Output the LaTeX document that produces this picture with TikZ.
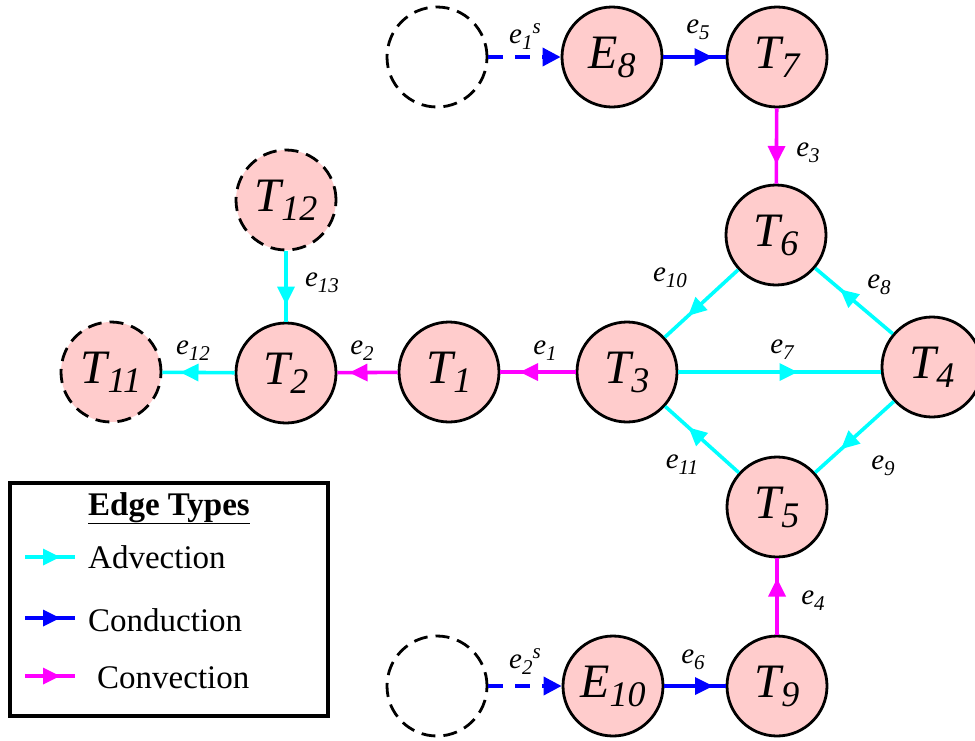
\documentclass[tikz,border=0pt]{standalone}
\usepackage{fontspec}
\setmainfont{Liberation Serif}
\usetikzlibrary{arrows.meta,decorations.markings}
\definecolor{nodepink}{RGB}{255,204,204}
\definecolor{advc}{RGB}{0,255,255}
\definecolor{conc}{RGB}{0,0,255}
\definecolor{cvc}{RGB}{255,0,255}
\newcommand{\ndl}[2]{#1\raisebox{-9pt}{\fontsize{36}{36}\selectfont #2}}
\newcommand{\edl}[2]{#1\raisebox{-6pt}{\fontsize{21}{21}\selectfont #2}}
\tikzset{
  nd/.style={circle, draw=black, line width=2.8pt, fill=nodepink, minimum size=100pt, inner sep=0pt,
    font=\fontsize{48}{50}\selectfont\itshape},
  ghost/.style={circle, draw=black, line width=2.8pt, dash pattern=on 14pt off 8pt, minimum size=100pt, inner sep=0pt},
  ghostnd/.style={nd, dash pattern=on 14pt off 8pt},
  midarrow/.style={line width=3.6pt, postaction={decorate},
    decoration={markings, mark=at position 0.5 with {\fill[solid] (0pt,9pt) -- (18pt,0pt) -- (0pt,-9pt) -- cycle;}}},
  adv/.style={midarrow, color=advc},
  con/.style={midarrow, color=conc},
  cvn/.style={midarrow, color=cvc},
  legarrow/.style={line width=3.6pt, postaction={decorate},
    decoration={markings, mark=at position 0.5 with {\fill[solid] (-7pt,8.5pt) -- (10pt,0pt) -- (-7pt,-8.5pt) -- cycle;}}},
  src/.style={line width=3.6pt, color=conc, dash pattern=on 15pt off 12pt, -{Triangle[length=18pt,width=18pt]}},
  elab/.style={font=\fontsize{29}{30}\selectfont\itshape, inner sep=0pt},
  legtxt/.style={font=\fontsize{33}{35}\selectfont, anchor=west, inner sep=0pt},
}
\begin{document}
\begin{tikzpicture}[x=1pt,y=-1pt]
\useasboundingbox (0,0) rectangle (975,740);
\clip (0,0) rectangle (975,740);

% nodes
\node[ghost] (S1) at (437,57) {};
\node[nd] (E8) at (612,57) {\ndl{E}{8}};
\node[nd] (T7) at (777,57) {\ndl{T}{7}};
\node[nd] (T6) at (776,235) {\ndl{T}{6}};
\node[ghostnd] (T12) at (286,200) {\ndl{T}{12}};
\node[nd] (T2) at (286,373) {\ndl{T}{2}};
\node[ghostnd] (T11) at (111,372) {\ndl{T}{11}};
\node[nd] (T1) at (449,372) {\ndl{T}{1}};
\node[nd] (T3) at (627,372) {\ndl{T}{3}};
\node[nd] (T4) at (932,367) {\ndl{T}{4}};
\node[nd] (T5) at (777,507) {\ndl{T}{5}};
\node[nd] (T9) at (777,686) {\ndl{T}{9}};
\node[nd] (E10) at (613,686) {\ndl{E}{10}};
\node[ghost] (S2) at (437,686) {};

% edges
\draw[src] (S1) -- (E8);
\draw[con] (E8) -- (T7);
\draw[cvn] (T7) -- (T6);
\draw[adv] (T6) -- (T3);
\draw[adv] (T4) -- (T6);
\draw[adv] (T3.east) -- (T3.east -| T4.west);
\draw[adv] (T4) -- (T5);
\draw[adv] (T5) -- (T3);
\draw[cvn] (T9) -- (T5);
\draw[con] (E10) -- (T9);
\draw[src] (S2) -- (E10);
\draw[cvn] (T3) -- (T1);
\draw[cvn] (T1) -- (T2);
\draw[adv] (T2) -- (T11);
\draw[adv] (T12) -- (T2);

% edge labels
\node[elab] (l1s) at (525,37) {\edl{e}{1}\raisebox{10pt}{\fontsize{21}{21}\selectfont s}};
\node[elab] (l5) at (698,30) {\edl{e}{5}};
\node[elab] (l3) at (808,153) {\edl{e}{3}};
\node[elab] (l10) at (670,278) {\edl{e}{10}};
\node[elab] (l8) at (879,285) {\edl{e}{8}};
\node[elab] (l7) at (782,350) {\edl{e}{7}};
\node[elab] (l11) at (682,465) {\edl{e}{11}};
\node[elab] (l9) at (883,466) {\edl{e}{9}};
\node[elab] (l4) at (813,601) {\edl{e}{4}};
\node[elab] (l6) at (693,660) {\edl{e}{6}};
\node[elab] (l2s) at (525,662) {\edl{e}{2}\raisebox{10pt}{\fontsize{21}{21}\selectfont s}};
\node[elab] (l12) at (193,351) {\edl{e}{12}};
\node[elab] (l2) at (362,351) {\edl{e}{2}};
\node[elab] (l13) at (322,283) {\edl{e}{13}};
\node[elab] (l1) at (545,351) {\edl{e}{1}};

% legend
\draw[line width=3.5pt] (10,483) rectangle (328,716);
\node[font=\fontsize{33}{35}\selectfont\bfseries, inner sep=0pt, anchor=base] (ltitle) at (169,515) {\underline{Edge Types}};
\coordinate (a1) at (25,557); \coordinate (a2) at (75,557);
\coordinate (b1) at (25,618); \coordinate (b2) at (75,618);
\coordinate (c1) at (25,676); \coordinate (c2) at (75,676);
\draw[legarrow, color=advc] (a1) -- (a2);
\draw[legarrow, color=conc] (b1) -- (b2);
\draw[legarrow, color=cvc] (c1) -- (c2);
\node[legtxt] (ladv) at (88,557) {Advection};
\node[legtxt] (lcon) at (88,620) {Conduction};
\node[legtxt] (lcvn) at (97,678) {Convection};
\end{tikzpicture}
\end{document}
